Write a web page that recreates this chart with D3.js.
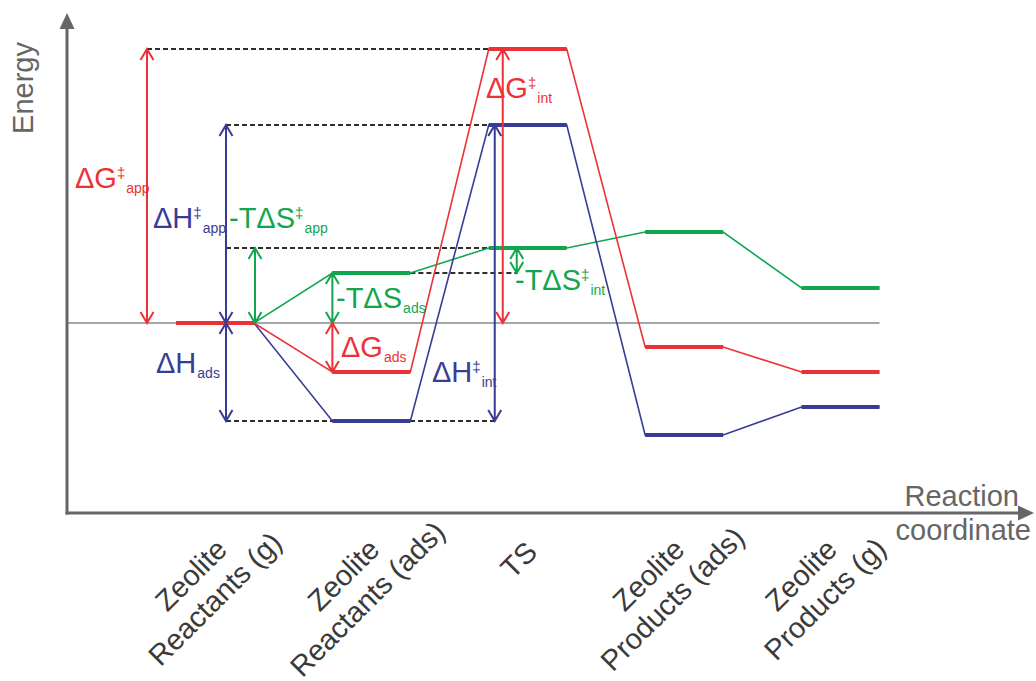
<!DOCTYPE html>
<html>
<head>
<meta charset="utf-8">
<script src="https://cdn.jsdelivr.net/npm/d3@7"></script>
<style>
body{margin:0;background:#fff;}
text{font-family:"Liberation Sans",Arial,sans-serif;}
</style>
</head>
<body>
<div id="plot"></div>
<script>
// chart size
var W = 1036, H = 681;

// states along the reaction coordinate
var stateNames = [["Zeolite","Reactants (g)"],["Zeolite","Reactants (ads)"],["TS"],["Zeolite","Products (ads)"],["Zeolite","Products (g)"]];
// energy levels (arbitrary units, zero = reactants in gas phase)
var freeEnergy  = [0, -49, 274, -24, -49];   // G (red)
var enthalpy    = [0, -98, 198, -112, -84];  // H (blue)
var entropyTerm = [0, 50, 75, 91, 35];       // -TS (green)

var red = '#ec3237', blue = '#393c95', green = '#13a651';

var svg = d3.select('#plot').append('svg')
    .attr('width', W)
    .attr('height', H);

var x = d3.scaleLinear().domain([0, 4]).range([215, 840.5]);
var y = d3.scaleLinear().domain([-190, 310]).range([513, 13]);
var hw = 39; // half width of a level

var axisX = 67, axisY = y(-190);

// zero line
svg.append('line')
    .attr('x1', axisX).attr('x2', x(4) + hw)
    .attr('y1', y(0)).attr('y2', y(0))
    .style('stroke', '#8a8a8a').style('stroke-width', 1.3);

// dashed reference lines
var guides = [
    {v: freeEnergy[2],  x1: x(0) - 68, x2: x(2) - hw},
    {v: enthalpy[2],    x1: x(0) + 11, x2: x(2) - hw},
    {v: entropyTerm[2], x1: x(0) + 11, x2: x(2) - hw + 2},
    {v: entropyTerm[1], x1: x(1) + hw, x2: x(2) - 11},
    {v: enthalpy[1],    x1: x(0) + 11, x2: x(2) - 33}
];
svg.selectAll('.guide').data(guides).enter().append('line')
    .attr('class', 'guide')
    .attr('x1', d => d.x1).attr('x2', d => d.x2)
    .attr('y1', d => y(d.v)).attr('y2', d => y(d.v))
    .style('stroke', '#2e2e2e').style('stroke-width', 2)
    .style('stroke-dasharray', '5,3');

// energy profiles
var series = [{v: entropyTerm, c: green}, {v: enthalpy, c: blue}, {v: freeEnergy, c: red}];
function levelPoints(v) {
    var p = [];
    v.forEach(function(e, i) {
        p.push([x(i) - hw, y(e)]);
        p.push([x(i) + hw, y(e)]);
    });
    return p;
}
var line = d3.line();
series.forEach(function(s) {
    svg.append('path')
        .attr('d', line(levelPoints(s.v)))
        .style('fill', 'none').style('stroke', s.c).style('stroke-width', 1.6);
});
series.forEach(function(s) {
    svg.selectAll(null).data(s.v).enter().append('line')
        .attr('x1', (d, i) => x(i) - hw).attr('x2', (d, i) => x(i) + hw)
        .attr('y1', d => y(d)).attr('y2', d => y(d))
        .style('stroke', s.c).style('stroke-width', 4);
});

// double headed arrows
var arrows = [
    {c: red,   px: x(0) - 68, a: freeEnergy[0], b: freeEnergy[2]},
    {c: blue,  px: x(0) + 11, a: enthalpy[0],   b: enthalpy[2]},
    {c: green, px: x(0) + 40, a: entropyTerm[0], b: entropyTerm[2]},
    {c: blue,  px: x(0) + 11, a: enthalpy[0],   b: enthalpy[1]},
    {c: green, px: x(1) - 39, a: entropyTerm[0], b: entropyTerm[1]},
    {c: red,   px: x(1) - 39, a: freeEnergy[0], b: freeEnergy[1]},
    {c: red,   px: x(2) - 25, a: 0,             b: freeEnergy[2]},
    {c: blue,  px: x(2) - 33, a: enthalpy[1],   b: enthalpy[2]},
    {c: green, px: x(2) - 11, a: entropyTerm[1], b: entropyTerm[2]}
];
function arrowPath(d) {
    var y1 = y(d.a), y2 = y(d.b), s = y2 > y1 ? 1 : -1;
    var hl = Math.min(11, Math.abs(y2 - y1) / 2 - 1), hwid = 6.5;
    return 'M' + d.px + ',' + y1 + 'L' + d.px + ',' + y2 +
        'M' + (d.px - hwid) + ',' + (y2 - s * hl) + 'L' + d.px + ',' + y2 + 'L' + (d.px + hwid) + ',' + (y2 - s * hl) +
        'M' + (d.px - hwid) + ',' + (y1 + s * hl) + 'L' + d.px + ',' + y1 + 'L' + (d.px + hwid) + ',' + (y1 + s * hl);
}
svg.selectAll('.arrow').data(arrows).enter().append('path')
    .attr('class', 'arrow')
    .attr('d', arrowPath)
    .style('fill', 'none').style('stroke', d => d.c).style('stroke-width', 2);

// annotation labels
var labels = [
    {c: red,   px: 75,  py: 188, main: 'ΔG',   sup: '‡', sub: 'app'},
    {c: blue,  px: 153, py: 228, main: 'ΔH',   sup: '‡', sub: 'app'},
    {c: green, px: 229, py: 228, main: '-TΔS', sup: '‡', sub: 'app'},
    {c: green, px: 336, py: 308, main: '-TΔS', sup: '',  sub: 'ads'},
    {c: red,   px: 341, py: 357, main: 'ΔG',   sup: '',  sub: 'ads'},
    {c: blue,  px: 156, py: 373, main: 'ΔH',   sup: '',  sub: 'ads'},
    {c: blue,  px: 432, py: 382, main: 'ΔH',   sup: '‡', sub: 'int'},
    {c: red,   px: 486, py: 98,  main: 'ΔG',   sup: '‡', sub: 'int'},
    {c: green, px: 515, py: 290, main: '-TΔS', sup: '‡', sub: 'int'}
];
labels.forEach(function(l) {
    var t = svg.append('text')
        .attr('x', l.px).attr('y', l.py)
        .style('fill', l.c).style('font-size', '29px');
    t.append('tspan').text(l.main);
    var down = 5;
    if (l.sup) {
        t.append('tspan').text(l.sup).attr('dy', -10).style('font-size', '15px');
        down = 15;
    }
    t.append('tspan').text(l.sub).attr('dy', down).attr('dx', 1).style('font-size', '14px');
});

// axes with arrow heads
svg.append('line')
    .attr('x1', axisX).attr('x2', axisX)
    .attr('y1', axisY + 1.5).attr('y2', y(310) + 14)
    .style('stroke', '#666').style('stroke-width', 3);
svg.append('line')
    .attr('x1', axisX - 1.5).attr('x2', 1020)
    .attr('y1', axisY).attr('y2', axisY)
    .style('stroke', '#666').style('stroke-width', 3);
svg.append('path')
    .attr('d', 'M' + axisX + ',' + y(310) + 'L' + (axisX - 7.5) + ',' + (y(310) + 16) + 'L' + (axisX + 7.5) + ',' + (y(310) + 16) + 'Z')
    .style('fill', '#666');
svg.append('path')
    .attr('d', 'M1034,' + axisY + 'L1018,' + (axisY - 7.5) + 'L1018,' + (axisY + 7.5) + 'Z')
    .style('fill', '#666');

// axis titles
svg.append('text')
    .attr('transform', 'translate(33,88) rotate(-90)')
    .attr('text-anchor', 'middle')
    .style('fill', '#666').style('font-size', '29px')
    .text('Energy');
svg.append('text')
    .attr('x', 1019).attr('y', 506)
    .attr('text-anchor', 'end')
    .style('fill', '#666').style('font-size', '29px')
    .text('Reaction');
svg.append('text')
    .attr('x', 1031).attr('y', 540)
    .attr('text-anchor', 'end')
    .style('fill', '#666').style('font-size', '29px')
    .text('coordinate');

// state labels, rotated
var labelX = d3.scaleLinear().domain([0, 4]).range([198, 808]);
stateNames.forEach(function(name, i) {
    var cx = name.length > 1 ? labelX(i) : x(i) - 2;
    var cy = name.length > 1 ? 582 : 567;
    var t = svg.append('text')
        .attr('transform', 'translate(' + cx + ',' + cy + ') rotate(-45)')
        .attr('text-anchor', 'middle')
        .style('fill', '#3a3a3a').style('font-size', '29px');
    name.forEach(function(part, j) {
        t.append('tspan').attr('x', 0).attr('dy', j === 0 ? 0 : 34).text(part);
    });
});
</script>
</body>
</html>
